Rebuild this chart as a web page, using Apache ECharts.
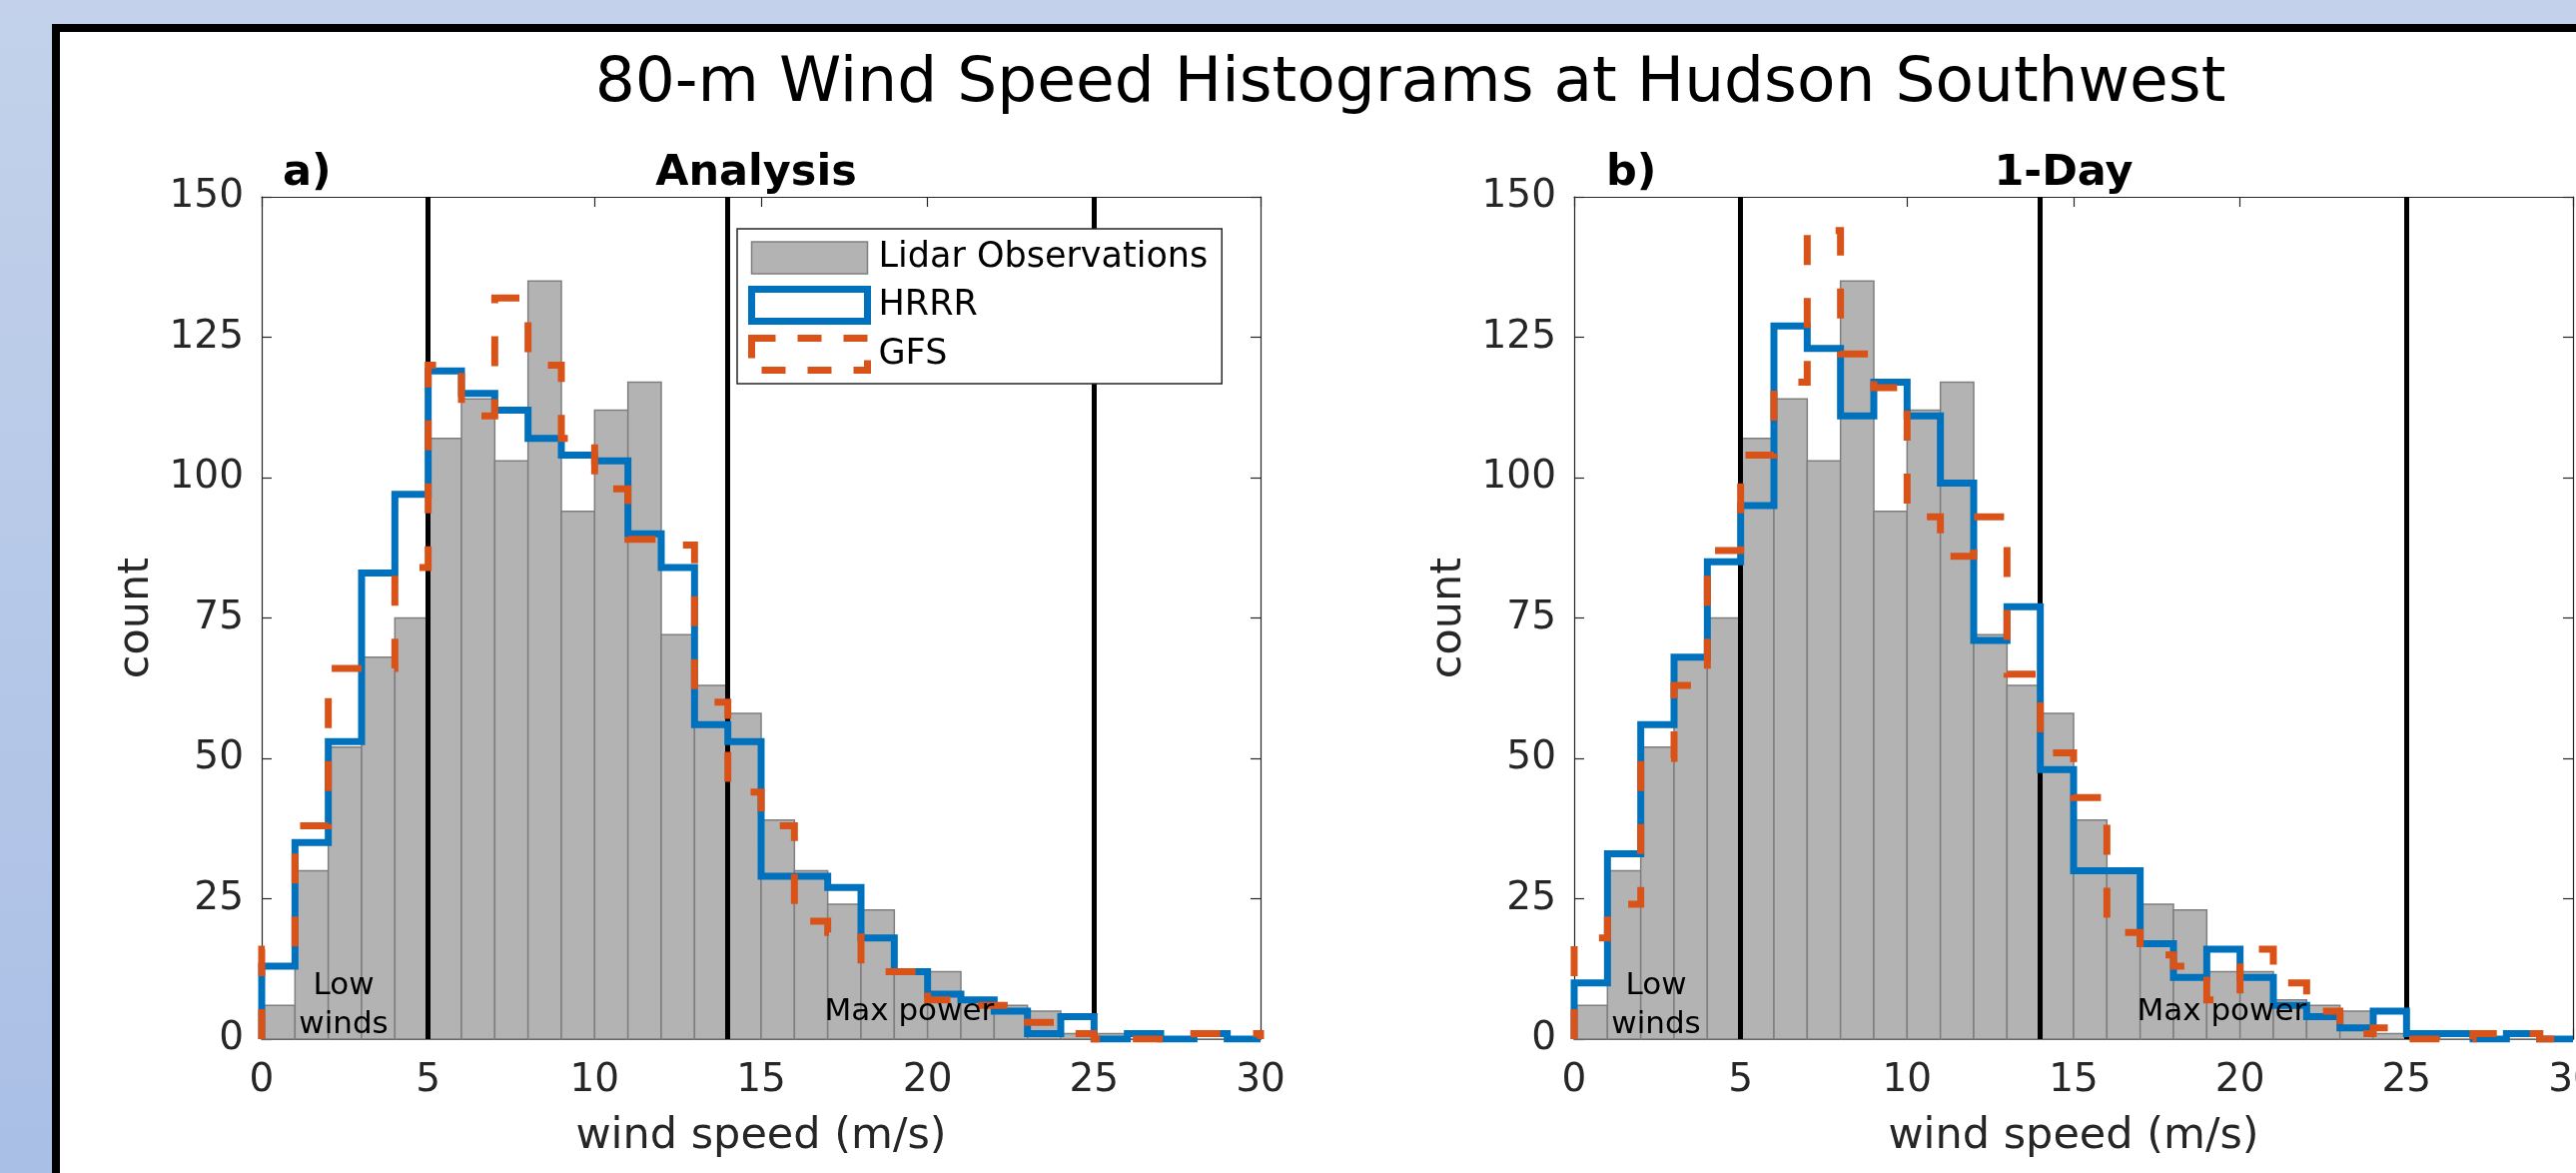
<!DOCTYPE html>
<html>
<head>
<meta charset="utf-8">
<title>80-m Wind Speed Histograms at Hudson Southwest</title>
<script src="https://cdn.jsdelivr.net/npm/echarts@6/dist/echarts.min.js"></script>
<style>
  html, body { margin: 0; padding: 0; }
  body {
    width: 2579px; height: 1174px; overflow: hidden; position: relative;
    background: linear-gradient(to bottom, #c3d2ea, #aabfe6);
  }
  #frame {
    position: absolute; left: 52px; top: 24px; width: 2700px; height: 1300px;
    background: #fff; border: 8px solid #000; box-sizing: border-box;
  }
  #chart { position: absolute; left: 0; top: 0; width: 2579px; height: 1174px; }
</style>
</head>
<body>
<div id="frame"></div>
<div id="chart"></div>
<script>
// 1 m/s bins, 0 .. 30 m/s
const binEdges = [0, 1, 2, 3, 4, 5, 6, 7, 8, 9, 10, 11, 12, 13, 14, 15, 16, 17, 18, 19, 20, 21, 22, 23, 24, 25, 26, 27, 28, 29, 30]

// counts per bin (same lidar observations in both panels)
const lidarCounts = [6, 30, 52, 68, 75, 107, 114, 103, 135, 94, 112, 117, 72, 63, 58, 39, 30, 24, 23, 12, 12, 7, 6, 5, 1, 1, 0, 0, 0, 0]
const hrrrAnalysis = [13, 35, 53, 83, 97, 119, 115, 112, 107, 104, 103, 90, 84, 56, 53, 29, 29, 27, 18, 12, 8, 7, 5, 1, 4, 0, 1, 0, 1, 0]
const gfsAnalysis = [16, 38, 66, 66, 84, 120, 111, 132, 120, 107, 98, 89, 88, 60, 44, 38, 21, 19, 12, 12, 7, 6, 6, 3, 1, 0, 0, 0, 1, 1]
const hrrrOneDay = [10, 33, 56, 68, 85, 95, 127, 123, 111, 117, 111, 99, 71, 77, 48, 30, 30, 17, 11, 16, 11, 6, 4, 2, 5, 1, 1, 0, 1, 0]
const gfsOneDay = [18, 24, 50, 63, 87, 104, 117, 144, 122, 116, 93, 86, 93, 65, 51, 43, 19, 15, 13, 7, 16, 10, 5, 1, 2, 0, 0, 1, 1, 0]

// wind regime limits (m/s)
const regimeLimits = [5, 14, 25]

const FONT = 'DejaVu Sans'
const AXIS_COLOR = '#262626'
const BAR_FILL = '#b3b3b3'
const BAR_EDGE = '#7f7f7f'
const HRRR_COLOR = '#0072BD'
const GFS_COLOR = '#D95319'

const panels = [
  { left: 262, tag: 'a)', tagX: 283, title: 'Analysis', titleX: 757, hrrr: hrrrAnalysis, gfs: gfsAnalysis },
  { left: 1576, tag: 'b)', tagX: 1608, title: '1-Day', titleX: 2066, hrrr: hrrrOneDay, gfs: gfsOneDay }
]

// histogram outline, like matlab 'stairs' display style
function stairs(counts) {
  const pts = [[binEdges[0], 0]]
  counts.forEach((c, i) => {
    pts.push([binEdges[i], c], [binEdges[i + 1], c])
  })
  pts.push([binEdges[binEdges.length - 1], 0])
  return pts
}

const tickStyle = { inside: true, length: 10, lineStyle: { color: AXIS_COLOR, width: 1.2 } }
const lineStyle = { onZero: false, lineStyle: { color: AXIS_COLOR, width: 1.2 } }
const labelStyle = { color: AXIS_COLOR, fontFamily: FONT, fontSize: 39 }
const nameStyle = { color: AXIS_COLOR, fontFamily: FONT, fontSize: 43 }

const grid = []
const xAxis = []
const yAxis = []
const series = []
const graphic = [{
  type: 'text', x: 1412, y: 85, z: 10,
  style: { text: '80-m Wind Speed Histograms at Hudson Southwest', fontFamily: FONT, fontSize: 63, fill: '#000', align: 'center', verticalAlign: 'middle' }
}]

panels.forEach((p, k) => {
  grid.push({ left: p.left, top: 197, width: 1000, height: 843, outerBoundsMode: 'none', containLabel: false })
  const xCommon = { type: 'value', gridIndex: k, min: 0, max: 30, interval: 5, splitLine: { show: false }, axisLine: lineStyle, axisTick: tickStyle }
  const yCommon = { type: 'value', gridIndex: k, min: 0, max: 150, interval: 25, splitLine: { show: false }, axisLine: lineStyle, axisTick: tickStyle }
  xAxis.push(Object.assign({}, xCommon, {
    position: 'bottom',
    name: 'wind speed (m/s)', nameLocation: 'middle', nameGap: 76, nameTextStyle: nameStyle,
    axisLabel: Object.assign({ margin: 22 }, labelStyle)
  }))
  xAxis.push(Object.assign({}, xCommon, { position: 'top', axisLabel: { show: false } }))
  yAxis.push(Object.assign({}, yCommon, {
    position: 'left',
    name: 'count', nameLocation: 'middle', nameGap: 104, nameTextStyle: nameStyle,
    axisLabel: Object.assign({ margin: 18 }, labelStyle)
  }))
  yAxis.push(Object.assign({}, yCommon, { position: 'right', axisLabel: { show: false } }))

  const xi = k * 2
  const yi = k * 2

  series.push({
    name: 'Lidar Observations',
    type: 'custom',
    xAxisIndex: xi,
    yAxisIndex: yi,
    z: 1,
    silent: true,
    itemStyle: { color: BAR_FILL },
    encode: { x: [0, 1], y: 2 },
    data: lidarCounts.map((c, i) => [binEdges[i], binEdges[i + 1], c]),
    renderItem: function(params, api) {
      const a = api.coord([api.value(0), api.value(2)])
      const b = api.coord([api.value(1), 0])
      return {
        type: 'rect',
        shape: { x: a[0], y: a[1], width: b[0] - a[0], height: b[1] - a[1] },
        style: { fill: BAR_FILL, stroke: BAR_EDGE, lineWidth: 1.5 }
      }
    },
    markLine: {
      silent: true,
      z: 2,
      symbol: ['none', 'none'],
      label: { show: false },
      lineStyle: { color: '#000', width: 5, type: 'solid' },
      data: regimeLimits.map(v => ({ xAxis: v }))
    }
  })
  series.push({
    name: 'HRRR',
    type: 'line',
    xAxisIndex: xi,
    yAxisIndex: yi,
    z: 3,
    silent: true,
    symbol: 'none',
    itemStyle: { color: HRRR_COLOR },
    lineStyle: { color: HRRR_COLOR, width: 7, join: 'miter' },
    data: stairs(p.hrrr)
  })
  series.push({
    name: 'GFS',
    type: 'line',
    xAxisIndex: xi,
    yAxisIndex: yi,
    z: 4,
    silent: true,
    symbol: 'none',
    itemStyle: { color: GFS_COLOR },
    lineStyle: { color: GFS_COLOR, width: 7, type: [30, 33], join: 'miter' },
    data: stairs(p.gfs)
  })
  // regime notes
  const notes = ['Low\nwinds', 'Max power']
  series.push({
    type: 'custom',
    xAxisIndex: xi,
    yAxisIndex: yi,
    z: 6,
    silent: true,
    encode: { x: 0, y: 1 },
    data: [[2.46, 5.9], [19.45, 4.9]],
    renderItem: function(params, api) {
      const pt = api.coord([api.value(0), api.value(1)])
      return {
        type: 'text',
        x: pt[0],
        y: pt[1],
        style: { text: notes[params.dataIndex], fontFamily: FONT, fontSize: 31, lineHeight: 39, fill: '#000', align: 'center', verticalAlign: 'middle' }
      }
    }
  })

  graphic.push({
    type: 'text', x: p.titleX, y: 174, z: 10,
    style: { text: p.title, fontFamily: FONT, fontSize: 43, fontWeight: 'bold', fill: '#000', align: 'center', verticalAlign: 'middle' }
  })
  graphic.push({
    type: 'text', x: p.tagX, y: 174, z: 10,
    style: { text: p.tag, fontFamily: FONT, fontSize: 43, fontWeight: 'bold', fill: '#000', align: 'left', verticalAlign: 'middle' }
  })
})

const chart = echarts.init(document.getElementById('chart'), null, { renderer: 'canvas' })
chart.setOption({
  animation: false,
  backgroundColor: 'transparent',
  textStyle: { fontFamily: FONT },
  grid: grid,
  xAxis: xAxis,
  yAxis: yAxis,
  legend: {
    left: 738,
    top: 229,
    orient: 'vertical',
    selectedMode: false,
    backgroundColor: '#fff',
    borderColor: AXIS_COLOR,
    borderWidth: 1.5,
    borderRadius: 0,
    padding: [11, 14, 10, 11],
    itemWidth: 116,
    itemHeight: 32,
    itemGap: 10,
    textStyle: { color: '#000', fontFamily: FONT, fontSize: 35, lineHeight: 36, padding: [0, 0, 0, 6] },
    data: [
      { name: 'Lidar Observations', icon: 'rect', itemStyle: { color: BAR_FILL, borderColor: BAR_EDGE, borderWidth: 1.5 } },
      { name: 'HRRR', icon: 'rect', itemStyle: { color: 'rgba(0,0,0,0)', borderColor: HRRR_COLOR, borderWidth: 7 } },
      { name: 'GFS', icon: 'rect', itemStyle: { color: 'rgba(0,0,0,0)', borderColor: GFS_COLOR, borderWidth: 7, borderType: [24, 22] } }
    ]
  },
  graphic: graphic,
  series: series
})
</script>
</body>
</html>
